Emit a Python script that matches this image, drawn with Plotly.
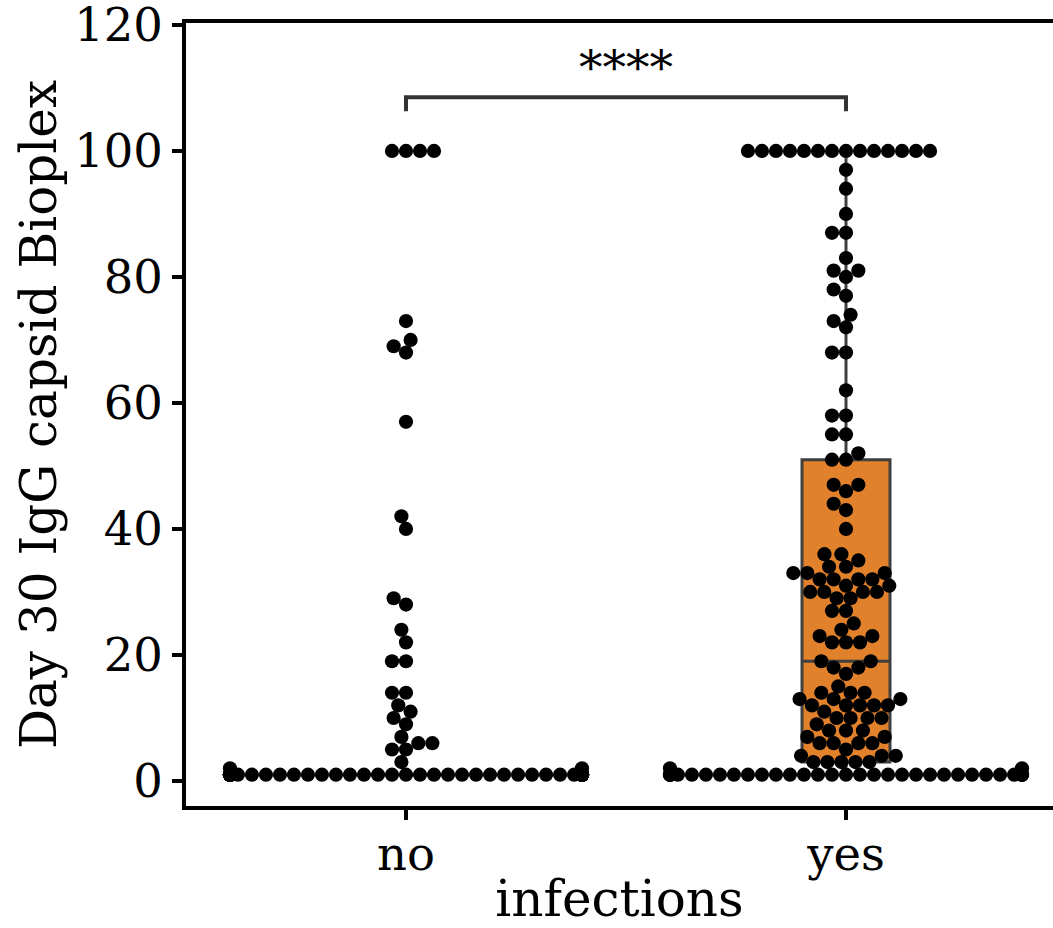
import numpy as np
import plotly.graph_objects as go

# ---------------- data ----------------
categories = ["no", "yes"]

no_levels = [1, 2, 3, 5, 6, 7, 9, 10, 11, 12, 14, 19, 22, 24, 28, 29, 40, 42, 57, 68, 69, 70, 73, 100]
no_counts = [95, 2, 1, 2, 2, 1, 1, 1, 1, 1, 2, 2, 1, 1, 1, 1, 1, 1, 1, 1, 1, 1, 1, 4]

yes_levels = [1, 2, 3, 4, 5, 6, 7, 8, 9, 10, 11, 12, 13, 14, 15, 17, 18, 19, 22, 23, 24, 25,
              27, 29, 30, 31, 32, 33, 34, 35, 36, 40, 43, 44, 46, 47, 51, 52, 55, 58, 62,
              68, 72, 73, 74, 77, 78, 80, 81, 83, 87, 90, 94, 97, 100]
yes_counts = [33, 2, 5, 3, 1, 4, 2, 3, 1, 4, 1, 5, 3, 3, 1, 1, 2, 2, 3, 2, 1, 1,
              2, 2, 4, 2, 4, 3, 2, 1, 2, 1, 1, 1, 1, 2, 2, 1, 2, 2, 1,
              2, 1, 1, 1, 1, 1, 1, 2, 1, 2, 1, 1, 1, 14]

y_ticks = [0, 20, 40, 60, 80, 100, 120]
bracket_low, bracket_high = 106.3, 108.5
sig_label = "****"

no_values = np.repeat(no_levels, no_counts).astype(float)
yes_values = np.repeat(yes_levels, yes_counts).astype(float)

# ---------------- layout geometry ----------------
W, H = 1053, 928
ML, MR, MT, MB = 186, 0, 23, 122
PX_PER_X = 440.0
X_RANGE = [-0.5, -0.5 + (W - ML - MR) / PX_PER_X]
Y_RANGE = [-3.97, 120.3]
PX_PER_Y = (H - MT - MB) / (Y_RANGE[1] - Y_RANGE[0])
RADIUS = 6.67          # marker radius in px used for the swarm layout
MARKER_SIZE = 14.2     # drawn diameter
SWARM_HALF = 0.4       # gutter (data units)
FONT = "DejaVu Serif"
TICK_SIZE = 46.5
TITLE_SIZE = 50


def beeswarm_offsets(values):
    """seaborn-like beeswarm, computed in pixel space; returns x offsets (data units)."""
    vals = np.asarray(values, float)
    order = np.argsort(vals, kind="stable")
    ys = vals[order] * PX_PER_Y
    r = RADIUS
    swarm = [(0.0, ys[0])]
    for y in ys[1:]:
        neighbors = []
        for (xj, yj) in reversed(swarm):
            if (y - yj) < 2 * r:
                neighbors.append((xj, yj))
            else:
                break
        cands = [0.0]
        left_first = True
        for (xj, yj) in neighbors:
            dy = y - yj
            dx = np.sqrt(max((2 * r) ** 2 - dy ** 2, 0)) * 1.05
            if left_first:
                cands += [xj - dx, xj + dx]
            else:
                cands += [xj + dx, xj - dx]
            left_first = not left_first
        cands = np.array(cands)
        cands = cands[np.argsort(np.abs(cands), kind="stable")]
        chosen = cands[0]
        if neighbors:
            nb = np.array(neighbors)
            for c in cands:
                d2 = (nb[:, 0] - c) ** 2 + (nb[:, 1] - y) ** 2
                if np.all(d2 >= (2 * r) ** 2 - 1e-9):
                    chosen = c
                    break
        swarm.append((chosen, y))
    xs = np.empty(len(vals))
    xs[order] = [s[0] for s in swarm]
    xs = xs / PX_PER_X
    return np.clip(xs, -SWARM_HALF, SWARM_HALF)


fig = go.Figure()

box_colors = ["#3274a1", "#e1812c"]
for i, vals in enumerate([no_values, yes_values]):
    fig.add_trace(go.Box(
        x=np.full(len(vals), float(i)), y=vals, width=0.2,
        fillcolor=box_colors[i], line=dict(color="#3f3f3f", width=3),
        boxpoints="outliers", marker=dict(opacity=0, size=1),
        whiskerwidth=0, quartilemethod="linear",
        hoverinfo="skip", showlegend=False,
    ))

for i, vals in enumerate([no_values, yes_values]):
    offs = beeswarm_offsets(vals)
    fig.add_trace(go.Scatter(
        x=i + offs, y=vals, mode="markers",
        marker=dict(color="black", size=MARKER_SIZE, line=dict(width=0)),
        showlegend=False, hoverinfo="skip",
    ))

# significance bracket
fig.add_trace(go.Scatter(
    x=[0, 0, 1, 1], y=[bracket_low, bracket_high, bracket_high, bracket_low],
    mode="lines", line=dict(color="#333333", width=4), showlegend=False, hoverinfo="skip",
))
fig.add_annotation(x=0.5, y=113.2, xref="x", yref="y", text=sig_label, showarrow=False,
                   yanchor="middle", font=dict(family=FONT, size=47, color="black"))

axis_common = dict(showline=True, linecolor="black", linewidth=3.5, ticks="outside",
                   ticklen=10, tickwidth=3.5, tickcolor="black", showgrid=False, zeroline=False,
                   ticklabeloverflow="allow",
                   tickfont=dict(family=FONT, size=TICK_SIZE, color="black"))

fig.update_layout(
    width=W, height=H, margin=dict(l=ML, r=MR, t=MT, b=MB, autoexpand=False),
    plot_bgcolor="white", paper_bgcolor="white", showlegend=False,
    font=dict(family=FONT, size=TICK_SIZE, color="black"),
    xaxis=dict(range=X_RANGE, tickvals=[0, 1], ticktext=categories, mirror=True,
               ticklabelstandoff=-6,
               title=dict(text="infections", standoff=7,
                          font=dict(family=FONT, size=TITLE_SIZE, color="black")),
               **axis_common),
    yaxis=dict(range=Y_RANGE, tickvals=y_ticks,
               title=dict(text="Day 30 IgG capsid Bioplex", standoff=3,
                          font=dict(family=FONT, size=TITLE_SIZE, color="black")),
               **axis_common),
)

fig.write_html("out.html")
